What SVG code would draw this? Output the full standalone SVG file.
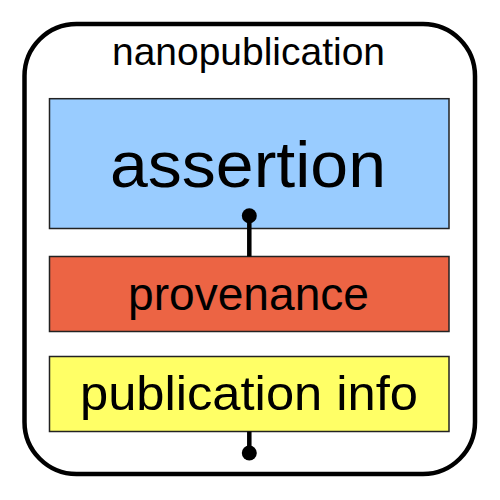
<svg xmlns="http://www.w3.org/2000/svg" width="500" height="500" viewBox="0 0 500 500">
<style>
.box{stroke:#222;stroke-width:1.5}
.lbl{font-family:"Liberation Sans",Arial,sans-serif;fill:#000;text-anchor:middle}
.conn{stroke:#000;stroke-width:4.5;fill:none}
.dot{fill:#000}
</style>
<rect width="500" height="500" fill="#fff"/>
<g id="nanopublication">
<rect x="24.5" y="24" width="450.5" height="450" rx="52" ry="52" fill="#fff" stroke="#000" stroke-width="4.5"/>
<text class="lbl" x="248.5" y="65" font-size="38.5" textLength="273" lengthAdjust="spacingAndGlyphs">nanopublication</text>
</g>
<g id="assertion">
<rect class="box" x="49.5" y="98.7" width="399.5" height="129.8" fill="#99ccff"/>
<text class="lbl" x="248" y="187" font-size="65.5" textLength="276" lengthAdjust="spacingAndGlyphs">assertion</text>
</g>
<g id="provenance">
<rect class="box" x="49.5" y="256.5" width="399.5" height="75" fill="#ec6444"/>
<text class="lbl" x="248.5" y="309.5" font-size="47" textLength="241" lengthAdjust="spacingAndGlyphs">provenance</text>
</g>
<g id="pubinfo">
<rect class="box" x="49.5" y="356.5" width="399.5" height="75" fill="#ffff66"/>
<text class="lbl" x="249" y="410" font-size="48" textLength="338" lengthAdjust="spacingAndGlyphs">publication info</text>
</g>
<g id="connectors">
<line class="conn" x1="249.3" y1="215.7" x2="249.3" y2="256.5"/>
<circle class="dot" cx="249.3" cy="215.7" r="7.5"/>
<line class="conn" x1="249.3" y1="431.5" x2="249.3" y2="453"/>
<circle class="dot" cx="249.3" cy="453" r="7.5"/>
</g>
</svg>
